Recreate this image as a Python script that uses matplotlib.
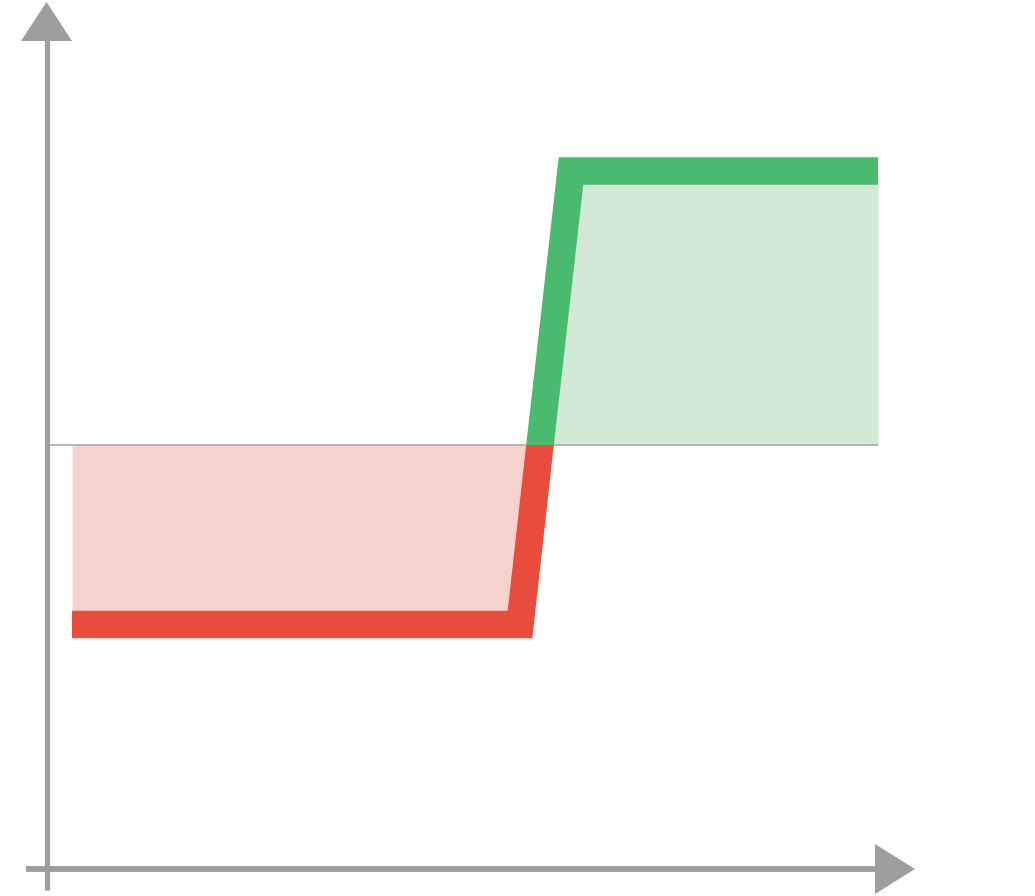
import matplotlib
matplotlib.use('Agg')
import matplotlib.pyplot as plt
from matplotlib.patches import Polygon, Rectangle

# payoff line (x, y), y = 0 is the break-even line
price = [72, 520, 540, 571, 878]
payoff = [-179.5, -179.5, 0, 274, 274]

RED = '#e84c3d'
GREEN = '#4aba6e'
RED_FILL = '#f6d1ce'
GREEN_FILL = '#d2e9d6'
GREY = '#9e9e9e'

fig = plt.figure(figsize=(10.35, 8.96), dpi=100)
ax = fig.add_axes([0, 0, 1, 1])
ax.set_xlim(0, 1035)
ax.set_ylim(-451, 445)
ax.axis('off')

# shaded areas between payoff and zero
ax.fill_between(price, payoff, 0, where=[p <= 0 for p in payoff], interpolate=True,
                color=RED_FILL, lw=0)
ax.fill_between(price, payoff, 0, where=[p >= 0 for p in payoff], interpolate=True,
                color=GREEN_FILL, lw=0)

# zero line
ax.plot([48, 878], [0, 0], color='#aaaaaa', lw=1.2, solid_capstyle='butt')

# thick payoff line, red below zero and green above
for col, rect in [(RED, Rectangle((0, -451), 1035, 451)),
                  (GREEN, Rectangle((0, 0), 1035, 445))]:
    ln, = ax.plot(price, payoff, color=col, lw=19.8,
                  solid_joinstyle='miter', solid_capstyle='butt')
    rect.set_transform(ax.transData)
    ln.set_clip_path(rect)

# axes with arrowheads
ax.plot([46.5, 46.5], [-445, 405], color=GREY, lw=3.8, solid_capstyle='butt')
ax.add_patch(Polygon([(21, 404), (72, 404), (46.5, 443)], closed=True, color=GREY, lw=0))
ax.plot([26, 876], [-424, -424], color=GREY, lw=4.2, solid_capstyle='butt')
ax.add_patch(Polygon([(875, -399), (875, -449), (915, -424)], closed=True, color=GREY, lw=0))

fig.savefig('out.png', dpi=100)
